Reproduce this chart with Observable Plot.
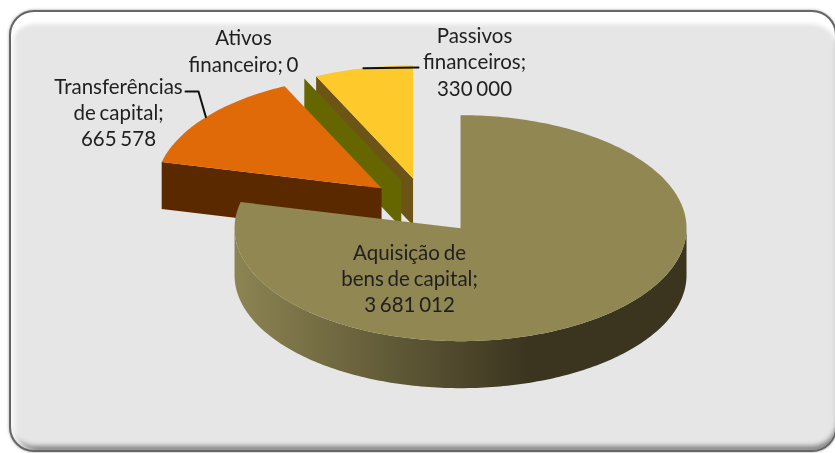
<!DOCTYPE html>
<html lang="pt">
<head>
<meta charset="utf-8">
<script src="https://cdn.jsdelivr.net/npm/d3@7"></script>
<script src="https://cdn.jsdelivr.net/npm/@observablehq/plot@0.6"></script>
<style>
  html, body { margin: 0; padding: 0; background: #fff; overflow: hidden; }
  #stage { position: relative; width: 835px; height: 453px; overflow: hidden; filter: blur(0.4px); }
  #panel {
    position: absolute; left: 9px; top: 10px; width: 828px; height: 442px;
    box-sizing: border-box; border-radius: 25px; background: #e6e6e6;
    border: 2px solid #666666;
    box-shadow: inset 0 14px 4px -2px #ffffff, inset 6px 0 4px -2px #f8f8f8,
                inset 0 -6px 5px -2px #808080, 0 0 3px #a0a0a0;
  }
  #chart { position: absolute; left: 0; top: 0; }
  #chart svg { background: transparent; display: block; }
  #chart text { word-spacing: -1.5px; }
</style>
</head>
<body>
<div id="stage"><div id="panel"></div><div id="chart"></div></div>
<script>
// Data, in the chart's clockwise order starting at 12 o'clock
const categories = ["Aquisição de\nbens de capital", "Transferências\nde capital", "Ativos\nfinanceiro", "Passivos\nfinanceiros"];
const values = [3681012, 665578, 0, 330000];
const separators = [";\n", ";\n", "; ", ";\n"];

// Styles
const topColors = ["#918752", "#e16a08", "#7f7f00", "#fdc92b"];
const sideColors = ["url(#sideGradient)", "#5a2900", "#666600", "#6b5416"];
const textColor = "#1f1f1f";

// Pie layout
const cx = 425, cy = 205.5, rx = 226, ry = 113, depth = 47, explosion = 0.25;
const labelAnchors = [[409, 277], [118, 111], [243, 49.5], [474, 60.5]];
const leaderElbows = [[], [[198, 91], [185, 91]], [], [[418, 67]]];

const total = d3.sum(values);
const formatNumber = d3.formatLocale({decimal: ",", thousands: " ", grouping: [3], currency: ["", ""]}).format(",d");
const rad = (a) => (a * Math.PI) / 180;
let running = 0;
const slices = values.map((v, i) => {
  const a0 = (running / total) * 360;
  running += v;
  const a1 = (running / total) * 360;
  const mid = rad((a0 + a1) / 2);
  return {
    i, a0, a1, mid,
    ax: cx + explosion * rx * Math.sin(mid),
    ay: cy - explosion * ry * Math.cos(mid)
  };
});
const rim = (s, a, drop = 0) => ({x: s.ax + rx * Math.sin(rad(a)), y: s.ay - ry * Math.cos(rad(a)) + drop});
const apex = (s, drop = 0) => ({x: s.ax, y: s.ay + drop});
const arc = (s, a0, a1, drop = 0) => {
  const n = Math.max(2, Math.ceil(Math.abs(a1 - a0)));
  return d3.range(n + 1).map((k) => rim(s, a0 + ((a1 - a0) * k) / n, drop));
};
const topFace = (s) => [apex(s), ...arc(s, s.a0, s.a1), apex(s)];
// flat cut face between the rim at angle a and the apex
const cutFace = (s, a) => [rim(s, a), apex(s), apex(s, depth), rim(s, a, depth), rim(s, a)];
const rimFace = (s, a0, a1) => [...arc(s, a0, a1), ...arc(s, a1, a0, depth)];

const polygon = (points, fill) =>
  Plot.line(points, {x: "x", y: "y", fill, stroke: "none", curve: "linear"});

const gradient = () => {
  const ns = "http://www.w3.org/2000/svg";
  const defs = document.createElementNS(ns, "defs");
  const g = document.createElementNS(ns, "linearGradient");
  g.setAttribute("id", "sideGradient");
  [["0", "#8c8452"], ["0.65", "#3b3520"], ["1", "#3b3520"]].forEach(([o, c]) => {
    const stop = document.createElementNS(ns, "stop");
    stop.setAttribute("offset", o);
    stop.setAttribute("stop-color", c);
    g.appendChild(stop);
  });
  defs.appendChild(g);
  return defs;
};

const [big, transfer, assets, liabilities] = slices;

const leaders = slices.flatMap((s) => {
  const elbows = leaderElbows[s.i];
  if (!elbows.length) return [];
  const start = rim(s, (s.a0 + s.a1) / 2);
  return [start, ...elbows.map(([x, y]) => ({x, y}))].map((p) => ({...p, id: s.i}));
});

const labels = slices.map((s) => ({
  x: labelAnchors[s.i][0],
  y: labelAnchors[s.i][1],
  text: categories[s.i] + separators[s.i] + formatNumber(values[s.i])
}));

const chart = Plot.plot({
  width: 835,
  height: 453,
  margin: 0,
  style: {background: "transparent"},
  x: {domain: [0, 835], range: [0, 835], axis: null},
  y: {domain: [0, 453], range: [0, 453], axis: null},
  marks: [
    gradient,
    // back pieces first: each later slice sits in front of the earlier ones
    polygon(cutFace(liabilities, liabilities.a0), sideColors[3]),
    polygon(topFace(liabilities), topColors[3]),
    polygon(cutFace(assets, assets.a0), sideColors[2]),
    polygon(cutFace(transfer, transfer.a0), sideColors[1]),
    polygon(topFace(transfer), topColors[1]),
    polygon(rimFace(big, 90, 270), sideColors[0]),
    polygon(topFace(big), topColors[0]),
    Plot.line(leaders, {x: "x", y: "y", z: "id", stroke: "#111111", strokeWidth: 2, curve: "linear"}),
    Plot.text(labels, {
      x: "x", y: "y", text: "text", fill: textColor,
      fontFamily: "Lato", fontSize: 20.5, lineHeight: 1.28, textAnchor: "middle", lineAnchor: "middle"
    })
  ]
});
document.getElementById("chart").appendChild(chart);
</script>
</body>
</html>
